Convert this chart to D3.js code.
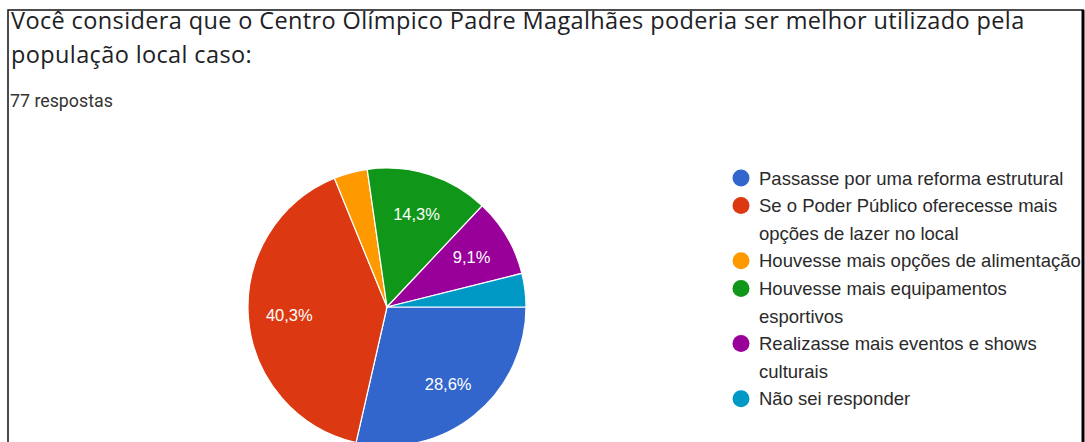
<!DOCTYPE html>
<html>
<head>
<meta charset="utf-8">
<script src="https://cdn.jsdelivr.net/npm/d3@7"></script>
<style>
  html, body { margin: 0; padding: 0; background: #fff; }
  svg { display: block; }
</style>
</head>
<body>
<svg id="chart" width="1085" height="442"></svg>
<script>
// Survey answers (77 responses)
const categories = [
  "Passasse por uma reforma estrutural",
  "Se o Poder Público oferecesse mais opções de lazer no local",
  "Houvesse mais opções de alimentação",
  "Houvesse mais equipamentos esportivos",
  "Realizasse mais eventos e shows culturais",
  "Não sei responder"
];
const counts = [22, 31, 3, 11, 7, 3];
const colors = ["#3366cc", "#dc3912", "#ff9900", "#109618", "#990099", "#0099c6"];
// Legend entries as wrapped lines
const legendLines = [
  ["Passasse por uma reforma estrutural"],
  ["Se o Poder Público oferecesse mais", "opções de lazer no local"],
  ["Houvesse mais opções de alimentação"],
  ["Houvesse mais equipamentos", "esportivos"],
  ["Realizasse mais eventos e shows", "culturais"],
  ["Não sei responder"]
];
const titleLines = [
  "Você considera que o Centro Olímpico Padre Magalhães poderia ser melhor utilizado pela",
  "população local caso:"
];
const subtitle = "77 respostas";

const svg = d3.select("#chart");
const W = 1085, H = 442;

// frame
svg.append("rect").attr("x", 8).attr("y", 10).attr("width", 1075).attr("height", 440)
  .attr("fill", "#fff").attr("stroke", "#111").attr("stroke-width", 1.5);
svg.append("line").attr("x1", 1083).attr("x2", 1083).attr("y1", 10).attr("y2", H)
  .attr("stroke", "#000").attr("stroke-width", 3);

// title
const titleFont = "'Open Sans', Roboto, sans-serif";
svg.append("g").selectAll("text").data(titleLines).join("text")
  .attr("x", 11).attr("y", (d, i) => 29 + i * 34)
  .attr("font-family", titleFont).attr("font-size", 23.5)
  .attr("letter-spacing", 0.38)
  .attr("fill", "#202124").text(d => d);
svg.append("text").attr("x", 10).attr("y", 107)
  .attr("font-family", "Roboto, Arial, sans-serif").attr("font-size", 17.8)
  .attr("fill", "#333").text(subtitle);

// pie
const total = d3.sum(counts);
const cx = 387, cy = 307, R = 139;
const pie = d3.pie().sort(null).value(d => d)
  .startAngle(Math.PI / 2).endAngle(Math.PI / 2 + 2 * Math.PI);
const arcs = pie(counts);
const arc = d3.arc().innerRadius(0).outerRadius(R);
const labelArc = d3.arc().innerRadius(98).outerRadius(98);
const gPie = svg.append("g").attr("transform", `translate(${cx},${cy})`);
gPie.selectAll("path").data(arcs).join("path")
  .attr("d", arc).attr("fill", (d, i) => colors[i])
  .attr("stroke", "#fff").attr("stroke-width", 1.2);
const fmt = v => d3.format(".1f")(v).replace(".", ",") + "%";
gPie.selectAll("text").data(arcs.filter(d => d.data / total > 0.05)).join("text")
  .attr("transform", d => `translate(${labelArc.centroid(d)})`)
  .attr("text-anchor", "middle").attr("dominant-baseline", "central")
  .attr("font-family", "Arial, 'Liberation Sans', sans-serif").attr("font-size", 16.5)
  .attr("fill", "#fff").text(d => fmt(d.data / total * 100));

// legend
const clip = svg.append("clipPath").attr("id", "frameClip")
  .append("rect").attr("x", 8).attr("y", 10).attr("width", 1074).attr("height", 440);
const gLeg = svg.append("g").attr("clip-path", "url(#frameClip)");
const lineStep = 27.6;
let row = 0;
legendLines.forEach((lines, i) => {
  const y0 = 178 + row * lineStep;
  gLeg.append("circle").attr("cx", 741).attr("cy", y0).attr("r", 8.5).attr("fill", colors[i]);
  lines.forEach((t, j) => {
    gLeg.append("text").attr("x", 759).attr("y", y0 + j * lineStep)
      .attr("dominant-baseline", "central")
      .attr("font-family", "Arial, 'Liberation Sans', sans-serif").attr("font-size", 18.5)
      .attr("fill", "#2a2a2a").text(t);
  });
  row += lines.length;
});
</script>
</body>
</html>
